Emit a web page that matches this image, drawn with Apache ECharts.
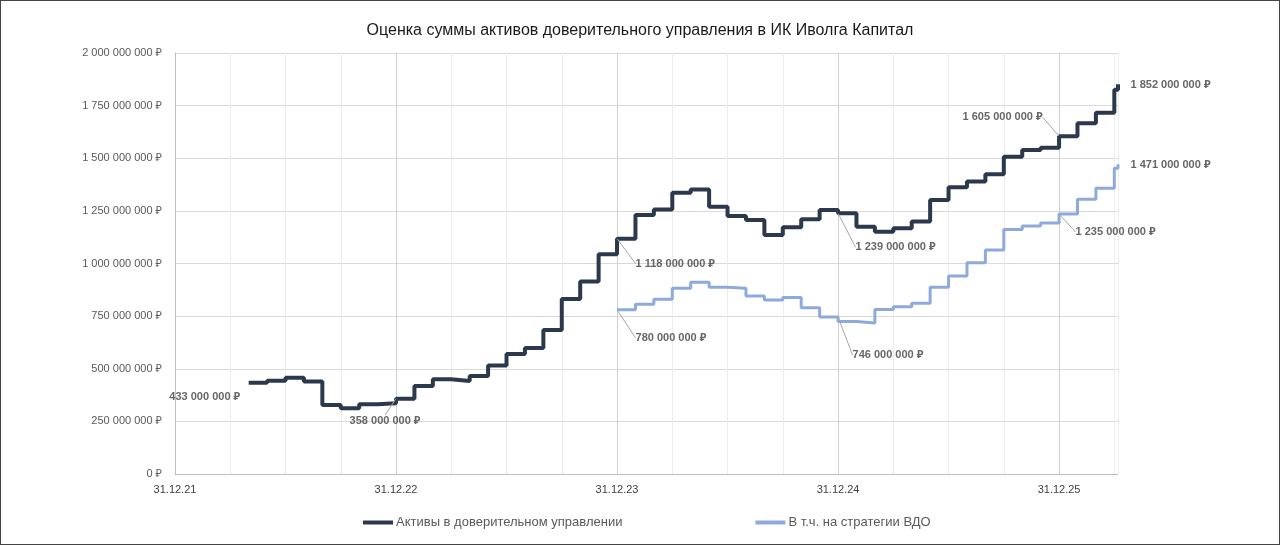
<!DOCTYPE html>
<html lang="ru">
<head>
    <meta charset="UTF-8">
    <title>Оценка суммы активов доверительного управления</title>
    <script src="https://cdn.jsdelivr.net/npm/echarts@6/dist/echarts.min.js"></script>
    <style>
        body { margin: 0; background: #fff; }
        #main { width: 1280px; height: 545px; }
        #frame { position: absolute; left: 0; top: 0; width: 1278px; height: 543px; border: 1px solid #444; pointer-events: none; }
    </style>
</head>
<body>
    <div id="main"></div>
    <div id="frame"></div>
    <script>
    // даты отчётов (конец месяца), последний — текущая оценка
    const dates = [
        '30.04.22', '31.05.22', '30.06.22', '31.07.22', '31.08.22', '30.09.22', '31.10.22', '30.11.22', '31.12.22',
        '31.01.23', '28.02.23', '31.03.23', '30.04.23', '31.05.23', '30.06.23', '31.07.23', '31.08.23', '30.09.23', '31.10.23', '30.11.23', '31.12.23',
        '31.01.24', '29.02.24', '31.03.24', '30.04.24', '31.05.24', '30.06.24', '31.07.24', '31.08.24', '30.09.24', '31.10.24', '30.11.24', '31.12.24',
        '31.01.25', '28.02.25', '31.03.25', '30.04.25', '31.05.25', '30.06.25', '31.07.25', '31.08.25', '30.09.25', '31.10.25', '30.11.25', '31.12.25',
        '31.01.26', '28.02.26', '31.03.26', '06.04.26'
    ]
    // млн руб.
    const totalAssets = [
        433, 443, 457, 440, 328, 312, 331, 336, 358,
        418, 450, 442, 466, 516, 570, 599, 684, 831, 914, 1044, 1118,
        1230, 1257, 1336, 1352, 1270, 1226, 1207, 1135, 1172, 1210, 1254, 1239,
        1175, 1151, 1167, 1199, 1302, 1362, 1389, 1424, 1507, 1539, 1550, 1605,
        1666, 1716, 1825, 1852
    ]
    const vdoDates = dates.slice(20)
    const vdoAssets = [
        780,
        806, 830, 882, 911, 887, 882, 846, 827, 839, 790, 746, 724,
        717, 782, 795, 811, 887, 941, 1004, 1064, 1162, 1178, 1192, 1235,
        1305, 1357, 1452, 1471
    ]
    // подписи на графике
    const totalNotes = [['30.04.22', 433], ['31.12.22', 358], ['31.12.23', 1118], ['31.12.24', 1239], ['31.12.25', 1605], ['06.04.26', 1852]]
    const vdoNotes = [['31.12.23', 780], ['31.12.24', 746], ['31.12.25', 1235], ['06.04.26', 1471]]

    const seriesNames = ['Активы в доверительном управлении', 'В т.ч. на стратегии ВДО']
    const FONT = '"Liberation Sans", "Noto Sans", sans-serif'

    /* 'ДД.ММ.ГГ' => число месяцев от 31.12.21 */
    function monthPos(s) {
        const p = s.split('.').map(Number)
        const days = new Date(2000 + p[2], p[1], 0).getDate()
        return (p[2] - 21) * 12 + (p[1] - 1) - 12 + p[0] / days
    }
    function rub(v) {
        return String(Math.round(v)).replace(/\B(?=(\d{3})+(?!\d))/g, ' ') + ' ₽'
    }
    function toPoints(ds, vals) {
        return ds.map((d, i) => [monthPos(d), vals[i] * 1e6])
    }

    const totalLayout = [
        { pos: 'left', dist: 0, dx: -8, dy: 14, line: false },
        { pos: 'bottom', dist: 0, dx: -11, dy: 16, line: true },
        { pos: 'right', dist: 0, dx: 18, dy: 25, line: true },
        { pos: 'right', dist: 0, dx: 17, dy: 34, line: true },
        { pos: 'left', dist: 0, dx: -16, dy: -19, line: true },
        { pos: 'right', dist: 12, dx: 0, dy: 1, line: false }
    ]
    const vdoLayout = [
        { pos: 'right', dist: 0, dx: 18, dy: 28, line: true },
        { pos: 'right', dist: 0, dx: 14, dy: 38, line: true },
        { pos: 'right', dist: 0, dx: 16, dy: 18, line: true },
        { pos: 'right', dist: 12, dx: 0, dy: 1, line: false }
    ]

    function noteSeries(notes, layout) {
        return {
            type: 'scatter',
            silent: true,
            z: 5,
            symbolSize: 1,
            itemStyle: { color: 'rgba(0,0,0,0)' },
            data: notes.map((n, i) => ({
                value: [monthPos(n[0]), n[1] * 1e6],
                label: { position: layout[i].pos, distance: layout[i].dist },
                labelLine: { show: layout[i].line }
            })),
            label: {
                show: true,
                formatter: p => rub(p.value[1]),
                color: '#404040',
                fontWeight: 'bold',
                fontSize: 11,
                fontFamily: FONT
            },
            labelLine: { show: true, lineStyle: { color: '#a6a6a6', width: 1 } },
            labelLayout: p => ({ dx: layout[p.dataIndex].dx, dy: layout[p.dataIndex].dy })
        }
    }

    const xMax = monthPos(dates[dates.length - 1])
    const myChart = echarts.init(document.getElementById('main'))
    const option = {
        animation: false,
        backgroundColor: '#fff',
        title: {
            text: 'Оценка суммы активов доверительного управления в ИК Иволга Капитал',
            left: 'center',
            top: 18,
            textStyle: { fontSize: 16, fontWeight: 'normal', color: '#1a1a1a', fontFamily: FONT }
        },
        legend: {
            data: seriesNames,
            left: 358,
            top: 511,
            icon: 'rect',
            itemWidth: 30,
            itemHeight: 4,
            itemGap: 133,
            textStyle: { color: '#595959', fontSize: 13, fontFamily: FONT, padding: [0, 0, 0, -2] }
        },
        grid: { left: 175, right: 162, top: 53, bottom: 71 },
        xAxis: {
            type: 'value',
            min: 0,
            max: xMax,
            interval: 3,
            axisLine: { lineStyle: { color: '#bfbfbf' } },
            axisTick: { show: false },
            axisLabel: {
                color: '#404040',
                fontSize: 11,
                fontFamily: FONT,
                margin: 10,
                showMaxLabel: false,
                formatter: v => (v % 12 === 0 ? '31.12.' + (21 + v / 12) : '')
            },
            splitLine: { show: true, lineStyle: { color: ['#d0d0d0', '#ececec', '#ececec', '#ececec'] } }
        },
        yAxis: {
            type: 'value',
            min: 0,
            max: 2000000000,
            interval: 250000000,
            axisLine: { show: true, lineStyle: { color: '#bfbfbf' } },
            axisTick: { show: false },
            axisLabel: { color: '#595959', fontSize: 11, fontFamily: FONT, margin: 13, formatter: rub },
            splitLine: { lineStyle: { color: '#d9d9d9' } }
        },
        series: [
            {
                name: seriesNames[0],
                type: 'line',
                step: 'end',
                showSymbol: false,
                z: 3,
                data: toPoints(dates, totalAssets),
                itemStyle: { color: '#2c394d' },
                lineStyle: { color: '#2c394d', width: 4 }
            },
            {
                name: seriesNames[1],
                type: 'line',
                step: 'end',
                showSymbol: false,
                z: 2,
                data: toPoints(vdoDates, vdoAssets),
                itemStyle: { color: '#8eaadc' },
                lineStyle: { color: '#8eaadc', width: 3 }
            },
            noteSeries(totalNotes, totalLayout),
            noteSeries(vdoNotes, vdoLayout)
        ]
    }
    myChart.setOption(option)
    </script>
</body>
</html>
